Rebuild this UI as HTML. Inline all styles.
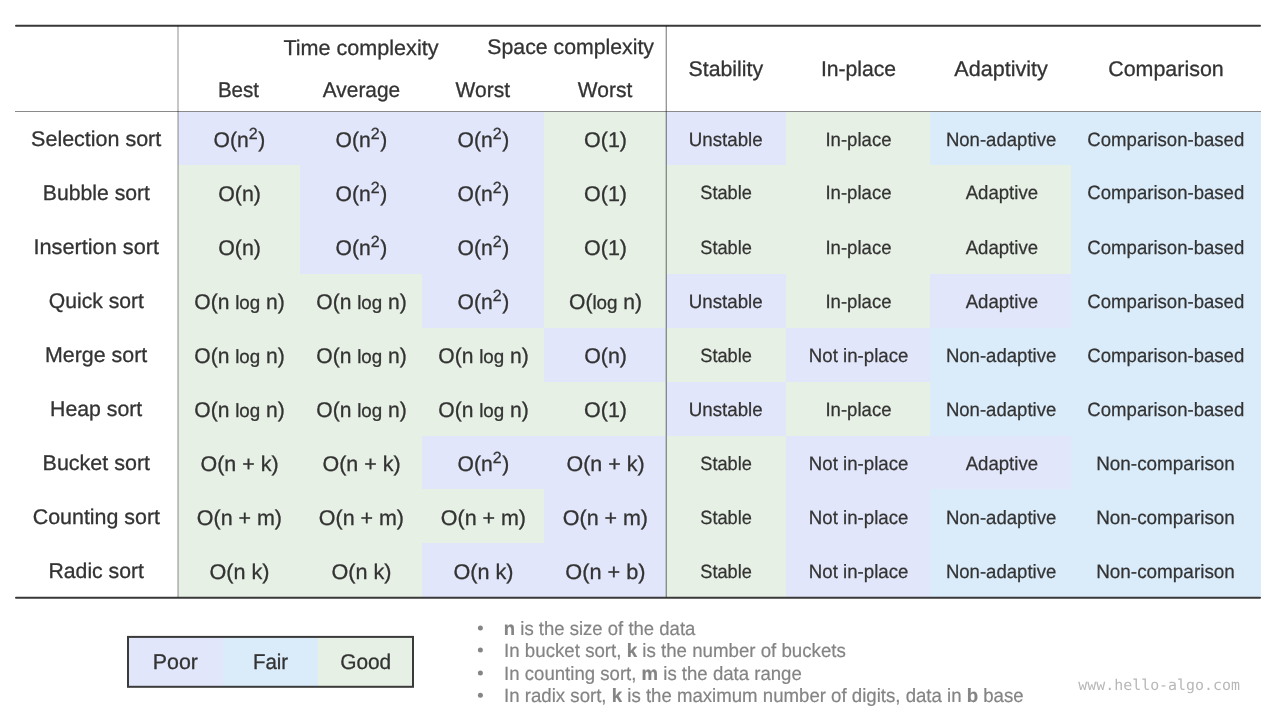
<!DOCTYPE html>
<html lang="en"><head><meta charset="utf-8"><title>Sorting algorithms comparison</title>
<style>
html,body{margin:0;padding:0;background:#fff;}
body{width:1280px;height:720px;overflow:hidden;}
svg{display:block;will-change:transform;}
text{font-family:"Liberation Sans",sans-serif;fill:#333333;white-space:pre;text-rendering:geometricPrecision;}
.big{font-size:21.3px;stroke:#333333;stroke-width:0.3px;} .sm{font-size:19.3px;stroke:#333333;stroke-width:0.25px;}
.note{font-size:19.3px;fill:#848484;stroke:#848484;stroke-width:0.2px;}
.b{font-weight:bold;}
.sup{font-size:16.2px;} .lg{font-size:19.0px;}
.url{font-family:"DejaVu Sans Mono","Liberation Mono",monospace;font-size:14.9px;fill:#b7b7b7;}
</style></head><body>
<svg width="1280" height="720" viewBox="0 0 1280 720">
<rect x="0" y="0" width="1280" height="720" fill="#ffffff"/>
<g shape-rendering="auto">
<rect x="178" y="112" width="366" height="53" fill="#E2E6FA"/>
<rect x="544" y="112" width="122" height="53" fill="#E6F0E4"/>
<rect x="666" y="112" width="120" height="53" fill="#E2E6FA"/>
<rect x="786" y="112" width="144" height="53" fill="#E6F0E4"/>
<rect x="930" y="112" width="331" height="53" fill="#DAEBFA"/>
<rect x="178" y="165" width="122" height="55" fill="#E6F0E4"/>
<rect x="300" y="165" width="244" height="55" fill="#E2E6FA"/>
<rect x="544" y="165" width="527" height="55" fill="#E6F0E4"/>
<rect x="1071" y="165" width="190" height="55" fill="#DAEBFA"/>
<rect x="178" y="220" width="122" height="54" fill="#E6F0E4"/>
<rect x="300" y="220" width="244" height="54" fill="#E2E6FA"/>
<rect x="544" y="220" width="527" height="54" fill="#E6F0E4"/>
<rect x="1071" y="220" width="190" height="54" fill="#DAEBFA"/>
<rect x="178" y="274" width="244" height="54" fill="#E6F0E4"/>
<rect x="422" y="274" width="122" height="54" fill="#E2E6FA"/>
<rect x="544" y="274" width="122" height="54" fill="#E6F0E4"/>
<rect x="666" y="274" width="120" height="54" fill="#E2E6FA"/>
<rect x="786" y="274" width="144" height="54" fill="#E6F0E4"/>
<rect x="930" y="274" width="141" height="54" fill="#E2E6FA"/>
<rect x="1071" y="274" width="190" height="54" fill="#DAEBFA"/>
<rect x="178" y="328" width="366" height="54" fill="#E6F0E4"/>
<rect x="544" y="328" width="122" height="54" fill="#E2E6FA"/>
<rect x="666" y="328" width="120" height="54" fill="#E6F0E4"/>
<rect x="786" y="328" width="144" height="54" fill="#E2E6FA"/>
<rect x="930" y="328" width="331" height="54" fill="#DAEBFA"/>
<rect x="178" y="382" width="488" height="54" fill="#E6F0E4"/>
<rect x="666" y="382" width="120" height="54" fill="#E2E6FA"/>
<rect x="786" y="382" width="144" height="54" fill="#E6F0E4"/>
<rect x="930" y="382" width="331" height="54" fill="#DAEBFA"/>
<rect x="178" y="436" width="244" height="53" fill="#E6F0E4"/>
<rect x="422" y="436" width="244" height="53" fill="#E2E6FA"/>
<rect x="666" y="436" width="120" height="53" fill="#E6F0E4"/>
<rect x="786" y="436" width="285" height="53" fill="#E2E6FA"/>
<rect x="1071" y="436" width="190" height="53" fill="#DAEBFA"/>
<rect x="178" y="489" width="366" height="54" fill="#E6F0E4"/>
<rect x="544" y="489" width="122" height="54" fill="#E2E6FA"/>
<rect x="666" y="489" width="120" height="54" fill="#E6F0E4"/>
<rect x="786" y="489" width="144" height="54" fill="#E2E6FA"/>
<rect x="930" y="489" width="331" height="54" fill="#DAEBFA"/>
<rect x="178" y="543" width="244" height="55" fill="#E6F0E4"/>
<rect x="422" y="543" width="244" height="55" fill="#E2E6FA"/>
<rect x="666" y="543" width="120" height="55" fill="#E6F0E4"/>
<rect x="786" y="543" width="144" height="55" fill="#E2E6FA"/>
<rect x="930" y="543" width="331" height="55" fill="#DAEBFA"/>
</g>
<line x1="16" y1="25.7" x2="1260" y2="25.7" stroke="#383838" stroke-width="2" stroke-linecap="round"/>
<line x1="16" y1="597.8" x2="1260" y2="597.8" stroke="#383838" stroke-width="2" stroke-linecap="round"/>
<rect x="15" y="111" width="1246" height="1" fill="#000" fill-opacity="0.46"/>
<rect x="177.5" y="26" width="1" height="571" fill="#000" fill-opacity="0.44"/>
<rect x="665.7" y="26" width="1.1" height="571" fill="#000" fill-opacity="0.5"/>
<rect x="128" y="637" width="95" height="50" fill="#E2E6FA"/>
<rect x="223" y="637" width="95" height="50" fill="#DAEBFA"/>
<rect x="318" y="637" width="95" height="50" fill="#E6F0E4"/>
<rect x="128" y="636.9" width="285" height="49.9" fill="none" stroke="#3a3a3a" stroke-width="2"/>
<circle cx="480.4" cy="628.1" r="2.5" fill="#858585"/>
<circle cx="480.4" cy="650.1" r="2.5" fill="#858585"/>
<circle cx="480.4" cy="673.1" r="2.5" fill="#858585"/>
<circle cx="480.4" cy="695.2" r="2.5" fill="#858585"/>
<text id="h_time" class="big" x="283.45" y="55.00" textLength="155.05" lengthAdjust="spacingAndGlyphs">Time complexity</text>
<text id="h_space" class="big" x="487.36" y="54.00" textLength="166.64" lengthAdjust="spacingAndGlyphs">Space complexity</text>
<text id="h_best" class="big" x="217.89" y="97.00" textLength="41.11" lengthAdjust="spacingAndGlyphs">Best</text>
<text id="h_avg" class="big" x="322.85" y="97.00" textLength="77.28" lengthAdjust="spacingAndGlyphs">Average</text>
<text id="h_worst1" class="big" x="455.61" y="97.00" textLength="54.39" lengthAdjust="spacingAndGlyphs">Worst</text>
<text id="h_worst2" class="big" x="577.86" y="97.00" textLength="54.39" lengthAdjust="spacingAndGlyphs">Worst</text>
<text id="h_stab" class="big" x="688.62" y="76.00" textLength="74.49" lengthAdjust="spacingAndGlyphs">Stability</text>
<text id="h_inpl" class="big" x="820.94" y="76.00" textLength="75.20" lengthAdjust="spacingAndGlyphs">In-place</text>
<text id="h_adap" class="big" x="954.35" y="76.00" textLength="93.40" lengthAdjust="spacingAndGlyphs">Adaptivity</text>
<text id="h_comp" class="big" x="1108.21" y="76.00" textLength="115.55" lengthAdjust="spacingAndGlyphs">Comparison</text>
<text id="l0" class="big" x="31.12" y="146.00" textLength="130.13" lengthAdjust="spacingAndGlyphs">Selection sort</text>
<text id="c0_0" class="big" x="213.60" y="147.00" textLength="51.65" lengthAdjust="spacingAndGlyphs">O(n<tspan class="sup" dy="-7.6">2</tspan><tspan dy="7.6" dx="0.6">)</tspan></text>
<text id="c0_1" class="big" x="335.60" y="147.00" textLength="51.65" lengthAdjust="spacingAndGlyphs">O(n<tspan class="sup" dy="-7.6">2</tspan><tspan dy="7.6" dx="0.6">)</tspan></text>
<text id="c0_2" class="big" x="457.60" y="147.00" textLength="51.65" lengthAdjust="spacingAndGlyphs">O(n<tspan class="sup" dy="-7.6">2</tspan><tspan dy="7.6" dx="0.6">)</tspan></text>
<text id="c0_3" class="big" x="584.11" y="147.00" textLength="42.88" lengthAdjust="spacingAndGlyphs">O(1)</text>
<text id="c0_4" class="sm" x="688.71" y="146.00" textLength="73.99" lengthAdjust="spacingAndGlyphs">Unstable</text>
<text id="c0_5" class="sm" x="825.46" y="146.00" textLength="66.04" lengthAdjust="spacingAndGlyphs">In-place</text>
<text id="c0_6" class="sm" x="945.89" y="146.00" textLength="110.40" lengthAdjust="spacingAndGlyphs">Non-adaptive</text>
<text id="c0_7" class="sm" x="1087.35" y="146.00" textLength="156.90" lengthAdjust="spacingAndGlyphs">Comparison-based</text>
<text id="l1" class="big" x="42.87" y="200.00" textLength="107.14" lengthAdjust="spacingAndGlyphs">Bubble sort</text>
<text id="c1_0" class="big" x="218.20" y="201.00" textLength="42.69" lengthAdjust="spacingAndGlyphs">O(n)</text>
<text id="c1_1" class="big" x="335.60" y="201.00" textLength="51.65" lengthAdjust="spacingAndGlyphs">O(n<tspan class="sup" dy="-7.6">2</tspan><tspan dy="7.6" dx="0.6">)</tspan></text>
<text id="c1_2" class="big" x="457.60" y="201.00" textLength="51.65" lengthAdjust="spacingAndGlyphs">O(n<tspan class="sup" dy="-7.6">2</tspan><tspan dy="7.6" dx="0.6">)</tspan></text>
<text id="c1_3" class="big" x="584.11" y="201.00" textLength="42.88" lengthAdjust="spacingAndGlyphs">O(1)</text>
<text id="c1_4" class="sm" x="700.25" y="199.00" textLength="51.63" lengthAdjust="spacingAndGlyphs">Stable</text>
<text id="c1_5" class="sm" x="825.46" y="199.00" textLength="66.04" lengthAdjust="spacingAndGlyphs">In-place</text>
<text id="c1_6" class="sm" x="965.65" y="199.00" textLength="72.39" lengthAdjust="spacingAndGlyphs">Adaptive</text>
<text id="c1_7" class="sm" x="1087.35" y="199.00" textLength="156.90" lengthAdjust="spacingAndGlyphs">Comparison-based</text>
<text id="l2" class="big" x="33.46" y="254.00" textLength="125.55" lengthAdjust="spacingAndGlyphs">Insertion sort</text>
<text id="c2_0" class="big" x="218.20" y="255.00" textLength="42.69" lengthAdjust="spacingAndGlyphs">O(n)</text>
<text id="c2_1" class="big" x="335.60" y="255.00" textLength="51.65" lengthAdjust="spacingAndGlyphs">O(n<tspan class="sup" dy="-7.6">2</tspan><tspan dy="7.6" dx="0.6">)</tspan></text>
<text id="c2_2" class="big" x="457.60" y="255.00" textLength="51.65" lengthAdjust="spacingAndGlyphs">O(n<tspan class="sup" dy="-7.6">2</tspan><tspan dy="7.6" dx="0.6">)</tspan></text>
<text id="c2_3" class="big" x="584.11" y="255.00" textLength="42.88" lengthAdjust="spacingAndGlyphs">O(1)</text>
<text id="c2_4" class="sm" x="700.25" y="254.00" textLength="51.63" lengthAdjust="spacingAndGlyphs">Stable</text>
<text id="c2_5" class="sm" x="825.46" y="254.00" textLength="66.04" lengthAdjust="spacingAndGlyphs">In-place</text>
<text id="c2_6" class="sm" x="965.65" y="254.00" textLength="72.39" lengthAdjust="spacingAndGlyphs">Adaptive</text>
<text id="c2_7" class="sm" x="1087.35" y="254.00" textLength="156.90" lengthAdjust="spacingAndGlyphs">Comparison-based</text>
<text id="l3" class="big" x="48.87" y="308.00" textLength="95.13" lengthAdjust="spacingAndGlyphs">Quick sort</text>
<text id="c3_0" class="big" x="194.30" y="309.00" textLength="90.49" lengthAdjust="spacingAndGlyphs">O(n <tspan class="lg">log</tspan> n)</text>
<text id="c3_1" class="big" x="316.30" y="309.00" textLength="90.49" lengthAdjust="spacingAndGlyphs">O(n <tspan class="lg">log</tspan> n)</text>
<text id="c3_2" class="big" x="457.60" y="309.00" textLength="51.65" lengthAdjust="spacingAndGlyphs">O(n<tspan class="sup" dy="-7.6">2</tspan><tspan dy="7.6" dx="0.6">)</tspan></text>
<text id="c3_3" class="big" x="569.06" y="309.00" textLength="72.99" lengthAdjust="spacingAndGlyphs">O(<tspan class="lg">log</tspan> n)</text>
<text id="c3_4" class="sm" x="688.71" y="308.00" textLength="73.99" lengthAdjust="spacingAndGlyphs">Unstable</text>
<text id="c3_5" class="sm" x="825.46" y="308.00" textLength="66.04" lengthAdjust="spacingAndGlyphs">In-place</text>
<text id="c3_6" class="sm" x="965.65" y="308.00" textLength="72.39" lengthAdjust="spacingAndGlyphs">Adaptive</text>
<text id="c3_7" class="sm" x="1087.35" y="308.00" textLength="156.90" lengthAdjust="spacingAndGlyphs">Comparison-based</text>
<text id="l4" class="big" x="45.01" y="362.00" textLength="102.24" lengthAdjust="spacingAndGlyphs">Merge sort</text>
<text id="c4_0" class="big" x="194.30" y="363.00" textLength="90.49" lengthAdjust="spacingAndGlyphs">O(n <tspan class="lg">log</tspan> n)</text>
<text id="c4_1" class="big" x="316.30" y="363.00" textLength="90.49" lengthAdjust="spacingAndGlyphs">O(n <tspan class="lg">log</tspan> n)</text>
<text id="c4_2" class="big" x="438.30" y="363.00" textLength="90.49" lengthAdjust="spacingAndGlyphs">O(n <tspan class="lg">log</tspan> n)</text>
<text id="c4_3" class="big" x="584.20" y="363.00" textLength="42.69" lengthAdjust="spacingAndGlyphs">O(n)</text>
<text id="c4_4" class="sm" x="700.25" y="362.00" textLength="51.63" lengthAdjust="spacingAndGlyphs">Stable</text>
<text id="c4_5" class="sm" x="808.81" y="362.00" textLength="99.59" lengthAdjust="spacingAndGlyphs">Not in-place</text>
<text id="c4_6" class="sm" x="945.89" y="362.00" textLength="110.40" lengthAdjust="spacingAndGlyphs">Non-adaptive</text>
<text id="c4_7" class="sm" x="1087.35" y="362.00" textLength="156.90" lengthAdjust="spacingAndGlyphs">Comparison-based</text>
<text id="l5" class="big" x="50.12" y="416.00" textLength="92.13" lengthAdjust="spacingAndGlyphs">Heap sort</text>
<text id="c5_0" class="big" x="194.30" y="417.00" textLength="90.49" lengthAdjust="spacingAndGlyphs">O(n <tspan class="lg">log</tspan> n)</text>
<text id="c5_1" class="big" x="316.30" y="417.00" textLength="90.49" lengthAdjust="spacingAndGlyphs">O(n <tspan class="lg">log</tspan> n)</text>
<text id="c5_2" class="big" x="438.30" y="417.00" textLength="90.49" lengthAdjust="spacingAndGlyphs">O(n <tspan class="lg">log</tspan> n)</text>
<text id="c5_3" class="big" x="584.11" y="417.00" textLength="42.88" lengthAdjust="spacingAndGlyphs">O(1)</text>
<text id="c5_4" class="sm" x="688.71" y="416.00" textLength="73.99" lengthAdjust="spacingAndGlyphs">Unstable</text>
<text id="c5_5" class="sm" x="825.46" y="416.00" textLength="66.04" lengthAdjust="spacingAndGlyphs">In-place</text>
<text id="c5_6" class="sm" x="945.89" y="416.00" textLength="110.40" lengthAdjust="spacingAndGlyphs">Non-adaptive</text>
<text id="c5_7" class="sm" x="1087.35" y="416.00" textLength="156.90" lengthAdjust="spacingAndGlyphs">Comparison-based</text>
<text id="l6" class="big" x="42.61" y="470.00" textLength="107.39" lengthAdjust="spacingAndGlyphs">Bucket sort</text>
<text id="c6_0" class="big" x="200.56" y="471.00" textLength="77.99" lengthAdjust="spacingAndGlyphs">O(n + k)</text>
<text id="c6_1" class="big" x="322.56" y="471.00" textLength="77.99" lengthAdjust="spacingAndGlyphs">O(n + k)</text>
<text id="c6_2" class="big" x="457.60" y="471.00" textLength="51.65" lengthAdjust="spacingAndGlyphs">O(n<tspan class="sup" dy="-7.6">2</tspan><tspan dy="7.6" dx="0.6">)</tspan></text>
<text id="c6_3" class="big" x="566.56" y="471.00" textLength="77.99" lengthAdjust="spacingAndGlyphs">O(n + k)</text>
<text id="c6_4" class="sm" x="700.25" y="470.00" textLength="51.63" lengthAdjust="spacingAndGlyphs">Stable</text>
<text id="c6_5" class="sm" x="808.81" y="470.00" textLength="99.59" lengthAdjust="spacingAndGlyphs">Not in-place</text>
<text id="c6_6" class="sm" x="965.65" y="470.00" textLength="72.39" lengthAdjust="spacingAndGlyphs">Adaptive</text>
<text id="c6_7" class="sm" x="1096.18" y="470.00" textLength="138.70" lengthAdjust="spacingAndGlyphs">Non-comparison</text>
<text id="l7" class="big" x="32.72" y="524.00" textLength="127.28" lengthAdjust="spacingAndGlyphs">Counting sort</text>
<text id="c7_0" class="big" x="196.85" y="525.00" textLength="85.15" lengthAdjust="spacingAndGlyphs">O(n + m)</text>
<text id="c7_1" class="big" x="318.85" y="525.00" textLength="85.15" lengthAdjust="spacingAndGlyphs">O(n + m)</text>
<text id="c7_2" class="big" x="440.85" y="525.00" textLength="85.15" lengthAdjust="spacingAndGlyphs">O(n + m)</text>
<text id="c7_3" class="big" x="562.85" y="525.00" textLength="85.15" lengthAdjust="spacingAndGlyphs">O(n + m)</text>
<text id="c7_4" class="sm" x="700.25" y="524.00" textLength="51.63" lengthAdjust="spacingAndGlyphs">Stable</text>
<text id="c7_5" class="sm" x="808.81" y="524.00" textLength="99.59" lengthAdjust="spacingAndGlyphs">Not in-place</text>
<text id="c7_6" class="sm" x="945.89" y="524.00" textLength="110.40" lengthAdjust="spacingAndGlyphs">Non-adaptive</text>
<text id="c7_7" class="sm" x="1096.18" y="524.00" textLength="138.70" lengthAdjust="spacingAndGlyphs">Non-comparison</text>
<text id="l8" class="big" x="48.51" y="578.00" textLength="95.49" lengthAdjust="spacingAndGlyphs">Radic sort</text>
<text id="c8_0" class="big" x="209.55" y="579.00" textLength="59.99" lengthAdjust="spacingAndGlyphs">O(n k)</text>
<text id="c8_1" class="big" x="331.55" y="579.00" textLength="59.99" lengthAdjust="spacingAndGlyphs">O(n k)</text>
<text id="c8_2" class="big" x="453.55" y="579.00" textLength="59.99" lengthAdjust="spacingAndGlyphs">O(n k)</text>
<text id="c8_3" class="big" x="565.35" y="579.00" textLength="80.15" lengthAdjust="spacingAndGlyphs">O(n + b)</text>
<text id="c8_4" class="sm" x="700.25" y="578.00" textLength="51.63" lengthAdjust="spacingAndGlyphs">Stable</text>
<text id="c8_5" class="sm" x="808.81" y="578.00" textLength="99.59" lengthAdjust="spacingAndGlyphs">Not in-place</text>
<text id="c8_6" class="sm" x="945.89" y="578.00" textLength="110.40" lengthAdjust="spacingAndGlyphs">Non-adaptive</text>
<text id="c8_7" class="sm" x="1096.18" y="578.00" textLength="138.70" lengthAdjust="spacingAndGlyphs">Non-comparison</text>
<text id="g_poor" class="big" x="152.88" y="669.00" textLength="45.12" lengthAdjust="spacingAndGlyphs">Poor</text>
<text id="g_fair" class="big" x="252.88" y="669.00" textLength="35.27" lengthAdjust="spacingAndGlyphs">Fair</text>
<text id="g_good" class="big" x="340.20" y="669.00" textLength="51.05" lengthAdjust="spacingAndGlyphs">Good</text>
<text id="n0" class="note" x="503.81" y="635.00" textLength="191.59" lengthAdjust="spacingAndGlyphs"><tspan class="b">n</tspan> is the size of the data</text>
<text id="n1" class="note" x="504.10" y="657.00" textLength="341.80" lengthAdjust="spacingAndGlyphs">In bucket sort, <tspan class="b">k</tspan> is the number of buckets</text>
<text id="n2_" class="note" x="504.11" y="680.00" textLength="297.69" lengthAdjust="spacingAndGlyphs">In counting sort, <tspan class="b">m</tspan> is the data range</text>
<text id="n3" class="note" x="504.10" y="702.00" textLength="519.55" lengthAdjust="spacingAndGlyphs">In radix sort, <tspan class="b">k</tspan> is the maximum number of digits, data in <tspan class="b">b</tspan> base</text>
<text id="url" class="url" x="1078.30" y="690.00" textLength="161.65" lengthAdjust="spacingAndGlyphs">www.hello-algo.com</text>
</svg></body></html>
